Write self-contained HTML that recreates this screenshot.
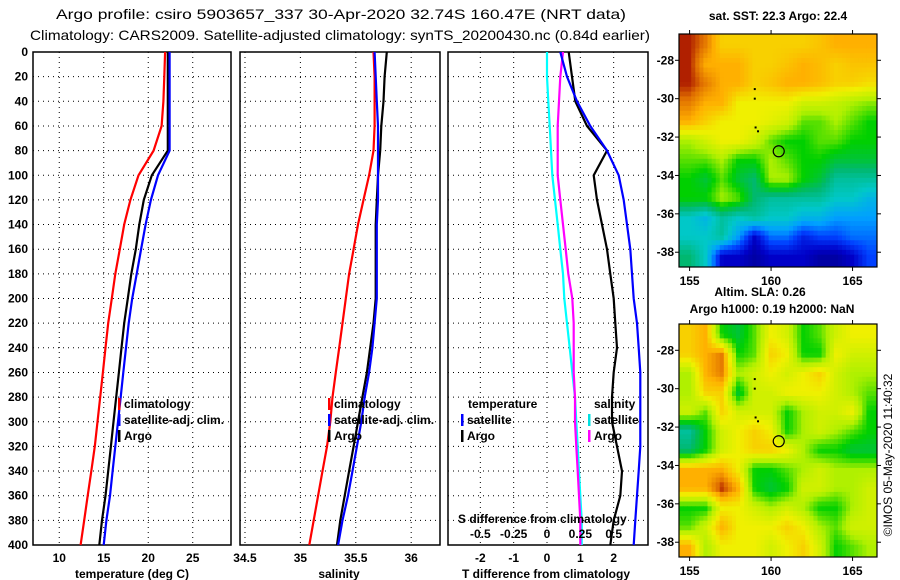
<!DOCTYPE html>
<html><head><meta charset="utf-8"><style>
body{margin:0;background:#fff;}
svg{display:block;font-family:"Liberation Sans",Arial,sans-serif;font-weight:bold;}
</style></head><body>
<svg id="c" width="900" height="580" xmlns="http://www.w3.org/2000/svg"></svg>
<script>
const depths=[0,20,40,60,80,100,120,140,160,180,200,220,240,260,280,300,320,340,360,380,400];
const tempClim=[21.9,21.8,21.7,21.5,20.6,18.9,18.0,17.3,16.8,16.3,15.9,15.5,15.2,14.9,14.6,14.3,14.0,13.6,13.2,12.8,12.4];
const tempSat=[22.4,22.4,22.4,22.4,22.4,21.1,20.3,19.7,19.2,18.7,18.2,17.8,17.5,17.2,16.9,16.6,16.3,16.0,15.7,15.3,15.0];
const tempArgo=[22.2,22.2,22.2,22.2,22.2,20.4,19.5,19.0,18.6,18.1,17.7,17.3,17.0,16.7,16.4,16.1,15.8,15.5,15.2,14.8,14.5];
const salClim=[35.66,35.67,35.67,35.67,35.66,35.62,35.57,35.52,35.48,35.44,35.41,35.38,35.35,35.32,35.29,35.27,35.24,35.20,35.16,35.12,35.08];
const salSat=[35.67,35.68,35.69,35.70,35.70,35.70,35.70,35.69,35.69,35.69,35.69,35.67,35.65,35.62,35.58,35.55,35.51,35.47,35.43,35.38,35.34];
const salArgo=[35.78,35.76,35.75,35.73,35.72,35.70,35.69,35.68,35.68,35.68,35.68,35.66,35.63,35.60,35.56,35.52,35.48,35.44,35.40,35.36,35.33];
const tDiffSat=[0.4,0.6,0.9,1.3,1.8,2.15,2.3,2.4,2.5,2.55,2.6,2.7,2.75,2.8,2.8,2.8,2.8,2.75,2.7,2.65,2.6];
const tDiffArgo=[0.65,0.75,0.85,1.2,1.8,1.4,1.5,1.65,1.8,1.9,2.0,2.05,2.1,2.0,1.95,1.95,2.1,2.25,2.2,2.0,1.9];
const sDiffSat=[0.0,0.0,0.01,0.02,0.03,0.04,0.06,0.08,0.10,0.12,0.13,0.15,0.17,0.19,0.21,0.22,0.23,0.24,0.25,0.26,0.26];
const sDiffArgo=[0.12,0.10,0.09,0.08,0.08,0.08,0.10,0.12,0.14,0.16,0.19,0.20,0.20,0.20,0.21,0.21,0.22,0.23,0.24,0.25,0.25];
const depthTicks=[0,20,40,60,80,100,120,140,160,180,200,220,240,260,280,300,320,340,360,380,400];
const tTicks=[10,15,20,25];
const sTicks=[34.5,35,35.5,36];
const dTTicks=[-2,-1,0,1,2];
const dSTicks=[-0.5,-0.25,0,0.25,0.5];
const dSLabels=["-0.5","-0.25","0","0.25","0.5"];
const lonTicks=[155,160,165];
const latTicks=[-28,-30,-32,-34,-36,-38];
const lonCells=[155,156,157,158,159,160,161,162,163,164,165,166];
const latCells=[-27.2,-28.2,-29.2,-30.2,-31.2,-32.2,-33.2,-34.2,-35.2,-36.2,-37.2,-38.2];
const sstGrid=[
[10,9.5,8.5,8.5,8.5,8.5,8.5,8.5,8.7,9,9,9],
[10,9,9,9,8.5,8.5,8.7,9,8.8,8.5,8.7,8.7],
[10,9.5,9,9,8.5,8.7,9,9,8.8,8.5,8.5,8.3],
[9.5,9,9,8,8,8,8,7.5,7.5,7.3,7,6.8],
[9,8.5,8,8,8,7.8,7.5,6.5,6.5,7,6.5,6],
[7,7.5,8,8,7.5,6.5,6,6,6.5,6.5,6,6],
[6.5,6.5,7,6,6,7,6.5,6,6,5.5,5.5,5.5],
[6,5.5,6.5,5.5,5,7,7,6,5.5,4.5,4.5,4.5],
[6,6,7,6.5,5,4.5,4.5,4.5,4.5,4,4,3.5],
[4,3.5,4.5,4,4.5,4,4,3.5,3.5,3,3,3],
[4,4,4.5,3,1,2.5,2.5,1.5,2,2,2.5,2.5],
[5,4,1,1,0.5,1,1,1,0.5,0.5,1,2]];
const slaGrid=[
[8.5,9,6,5.5,6.5,8,7.5,6,6.5,7.5,8,8],
[8.5,9,9.5,6,6.5,8.5,8,6,6,8,7.5,7.5],
[7,9,9.5,7,7.5,8,7.5,8,8.5,7.5,7,7],
[7,8.5,8.5,5.5,7.5,7.5,8,8,8,7.5,7,6.5],
[7.5,6.5,8.5,7.5,7.5,7.5,6,7,7.5,7.5,8,6],
[4.5,6,7.5,8,8.5,8,6,7,7.5,7,6.5,6],
[5,6,7.5,8,8.5,8.5,8,7,6,6,5.5,5.5],
[9,9,9,8,6,6,6.5,7,7.5,7,7,7],
[9,9,10,9,6,5.5,6,7.5,7.5,7,7,7.5],
[6,6,8,8,7.5,7,7.5,7,6,6,7,7.5],
[6.5,7.5,9,8,8,8,8.5,8,7,6.5,7.5,7.5],
[9,7,8,8,8,7.5,8,8.5,7.5,6,6.5,7]];
const floatLon=160.47, floatLat=-32.74;

const NS="http://www.w3.org/2000/svg";
const svg=document.getElementById('c');
function mk(tag,at,parent){const e=document.createElementNS(NS,tag);for(const k in at)e.setAttribute(k,at[k]);(parent||svg).appendChild(e);return e;}
function txt(x,y,s,anchor,size,fill){const e=mk('text',{x:x,y:y,'text-anchor':anchor||'start','font-size':size||12,fill:fill||'#000'});e.textContent=s;return e;}

const TOP=52,BOT=545;
const yD=d=>TOP+(d/400)*(BOT-TOP);
const panels=[
 {x0:33,x1:231,v0:7.05,v1:29.3,ticks:tTicks,name:'temperature'},
 {x0:240,x1:440,v0:34.455,v1:36.26,ticks:sTicks,name:'salinity'},
 {x0:448,x1:648,v0:-2.97,v1:3.03,ticks:dTTicks,name:'difference'}];
function xf(p){return v=>p.x0+(v-p.v0)/(p.v1-p.v0)*(p.x1-p.x0);}

panels.forEach((p,i)=>{
 const X=xf(p);
 const g=mk('g',{});
 
 
 depthTicks.forEach(d=>{if(d>0&&d<400){const l=mk('line',{x1:p.x0,x2:p.x1,y1:yD(d),y2:yD(d),stroke:'#000','stroke-width':1,'stroke-dasharray':'1,4'},g);}});
 p.ticks.forEach(v=>{const l=mk('line',{x1:X(v),x2:X(v),y1:TOP,y2:BOT,stroke:'#000','stroke-width':1,'stroke-dasharray':'1,4'},g);
  const t=txt(X(v),562,String(v),'middle',12);});
 const r=mk('rect',{x:p.x0,y:TOP,width:p.x1-p.x0,height:BOT-TOP,fill:'none',stroke:'#000','stroke-width':1.5},g);
 
});
depthTicks.forEach(d=>{const t=txt(28,yD(d)+4,String(d),'end',12);});

function line(arr,X,color,name){
 const pts=arr.map((v,i)=>X(v).toFixed(1)+','+yD(depths[i]).toFixed(1)).join(' ');
 const e=mk('polyline',{points:pts,fill:'none',stroke:color,'stroke-width':2.2});
 
 
}
const X1=xf(panels[0]),X2=xf(panels[1]),X3=xf(panels[2]);
const XS=v=>X3(v*4);
line(tempClim,X1,'#ff0000','temp-climatology-line');
line(tempArgo,X1,'#000','temp-argo-line');
line(tempSat,X1,'#0000ff','temp-satellite-line');
line(salClim,X2,'#ff0000','sal-climatology-line');
line(salArgo,X2,'#000','sal-argo-line');
line(salSat,X2,'#0000ff','sal-satellite-line');
line(sDiffSat,XS,'#00ffff','sdiff-satellite-line');
line(sDiffArgo,XS,'#ff00ff','sdiff-argo-line');
line(tDiffArgo,X3,'#000','tdiff-argo-line');
line(tDiffSat,X3,'#0000ff','tdiff-satellite-line');

function legend(x,y,color,label,name){
 const m=mk('rect',{x:x,y:y-10,width:2.5,height:12,fill:color});
 
 const t=txt(x+6,y,label,'start',12);
}
legend(118,408,'#ff0000','climatology','legend-temp-climatology');
legend(118,424,'#0000ff','satellite-adj. clim.','legend-temp-satellite');
legend(118,440,'#000','Argo','legend-temp-argo');
legend(328,408,'#ff0000','climatology','legend-sal-climatology');
legend(328,424,'#0000ff','satellite-adj. clim.','legend-sal-satellite');
legend(328,440,'#000','Argo','legend-sal-argo');
let t0=txt(468,408,'temperature','start',12);
legend(461,424,'#0000ff','satellite','legend-tdiff-satellite');
legend(461,440,'#000','Argo','legend-tdiff-argo');
t0=txt(594,408,'salinity','start',12);
legend(588,424,'#00e0e0','satellite','legend-sdiff-satellite');
legend(588,440,'#ff00ff','Argo','legend-sdiff-argo');
t0=txt(458,523,'S difference from climatology','start',12);
dSTicks.forEach((v,i)=>{const t=txt(XS(v),538,dSLabels[i],'middle',12);});
[[132,'temperature (deg C)','temp-axis-title'],[339,'salinity','sal-axis-title'],[546,'T difference from climatology','tdiff-axis-title']].forEach(a=>{const t=txt(a[0],578,a[1],'middle',12);});
t0=mk('text',{x:56,y:19,'font-size':14,'font-weight':'normal',textLength:570,lengthAdjust:'spacingAndGlyphs'});t0.textContent='Argo profile: csiro 5903657_337 30-Apr-2020 32.74S 160.47E (NRT data)';

t0=mk('text',{x:30,y:40,'font-size':14,'font-weight':'normal',textLength:620,lengthAdjust:'spacingAndGlyphs'});t0.textContent='Climatology: CARS2009. Satellite-adjusted climatology: synTS_20200430.nc (0.84d earlier)';


// maps
const stops=[[0,[0,0,128]],[1,[0,0,200]],[2,[0,64,255]],[3,[0,160,255]],[4,[0,200,200]],[5,[0,184,112]],[6,[0,208,0]],[7,[176,240,0]],[8,[240,240,0]],[9,[255,176,0]],[9.6,[224,112,0]],[10,[176,32,0]]];
function cmap(v){for(let i=1;i<stops.length;i++){if(v<=stops[i][0]){const a=stops[i-1],b=stops[i];const f=(v-a[0])/(b[0]-a[0]);const c=a[1].map((x,k)=>Math.round(x+(b[1][k]-x)*f));return 'rgb('+c.join(',')+')';}}return 'rgb(176,32,0)';}
function sample(grid,lon,lat){
 // bilinear sampling of grid (cell centres at lonCells/latCells)
 let fc=(lon-lonCells[0])/(lonCells[1]-lonCells[0]);
 let fr=(lat-latCells[0])/(latCells[1]-latCells[0]);
 fc=Math.max(0,Math.min(lonCells.length-1,fc));fr=Math.max(0,Math.min(latCells.length-1,fr));
 const c0=Math.floor(fc),r0=Math.floor(fr),c1=Math.min(c0+1,lonCells.length-1),r1=Math.min(r0+1,latCells.length-1);
 const a=fc-c0,b=fr-r0;
 return grid[r0][c0]*(1-a)*(1-b)+grid[r0][c1]*a*(1-b)+grid[r1][c0]*(1-a)*b+grid[r1][c1]*a*b;
}
function drawMap(y0,y1,grid,name){
 const xa=679,xb=877,lonA=154.35,lonB=166.5,latA=-26.63,latB=-38.77;
 const LX=l=>xa+(l-lonA)/(lonB-lonA)*(xb-xa);
 const LY=l=>y0+(l-latA)/(latB-latA)*(y1-y0);
 const g=mk('g',{});
 const cp=mk('clipPath',{id:'cp'+name},g);mk('rect',{x:xa,y:y0,width:xb-xa,height:y1-y0},cp);
 const cg=mk('g',{'clip-path':'url(#cp'+name+')'},g);
 const step=0.25;
 for(let lat=latA;lat>latB-step;lat-=step){
  for(let lon=lonA;lon<lonB;lon+=step){
   const v=sample(grid,lon+step/2,lat-step/2);
   const x=LX(lon),y=LY(lat);
   const e=mk('rect',{x:x.toFixed(1),y:y.toFixed(1),width:(LX(lon+step)-x+0.5).toFixed(1),height:(LY(lat-step)-y+0.5).toFixed(1),fill:cmap(v)},cg);
   
   
  }
 }
 const f=mk('rect',{x:xa,y:y0,width:xb-xa,height:y1-y0,fill:'none',stroke:'#000','stroke-width':1.2},g);
 
 lonTicks.forEach(l=>{mk('line',{x1:LX(l),x2:LX(l),y1:y0,y2:y0-4,stroke:'#000'},g);mk('line',{x1:LX(l),x2:LX(l),y1:y1,y2:y1+4,stroke:'#000'},g);
  const t=txt(LX(l),y1+18,String(l),'middle',12);});
 latTicks.forEach(l=>{mk('line',{x1:xa,x2:xa-4,y1:LY(l),y2:LY(l),stroke:'#000'},g);mk('line',{x1:xb,x2:xb+4,y1:LY(l),y2:LY(l),stroke:'#000'},g);
  const t=txt(xa-5,LY(l)+4,String(l),'end',12);});
 const c=mk('circle',{cx:LX(floatLon),cy:LY(floatLat),r:5.5,fill:'none',stroke:'#000','stroke-width':1.2},g);
 
 [[159.0,-29.5],[159.0,-30.0],[159.05,-31.5],[159.2,-31.7]].forEach(p=>mk('rect',{x:LX(p[0])-1,y:LY(p[1])-1,width:2,height:2,fill:'#000'},g));
}
drawMap(34,267,sstGrid,'sst-map');
drawMap(324,557,slaGrid,'sla-map');
t0=txt(778,20,'sat. SST: 22.3 Argo: 22.4','middle',12);
t0=txt(760,296,'Altim. SLA: 0.26','middle',12);
t0=txt(772,313,'Argo h1000: 0.19 h2000: NaN','middle',12);
t0=mk('text',{x:0,y:0,'text-anchor':'middle','font-size':12,'font-weight':'normal',transform:'translate(892,455) rotate(-90)'});t0.textContent='©IMOS 05-May-2020 11:40:32';

</script>
</body></html>
